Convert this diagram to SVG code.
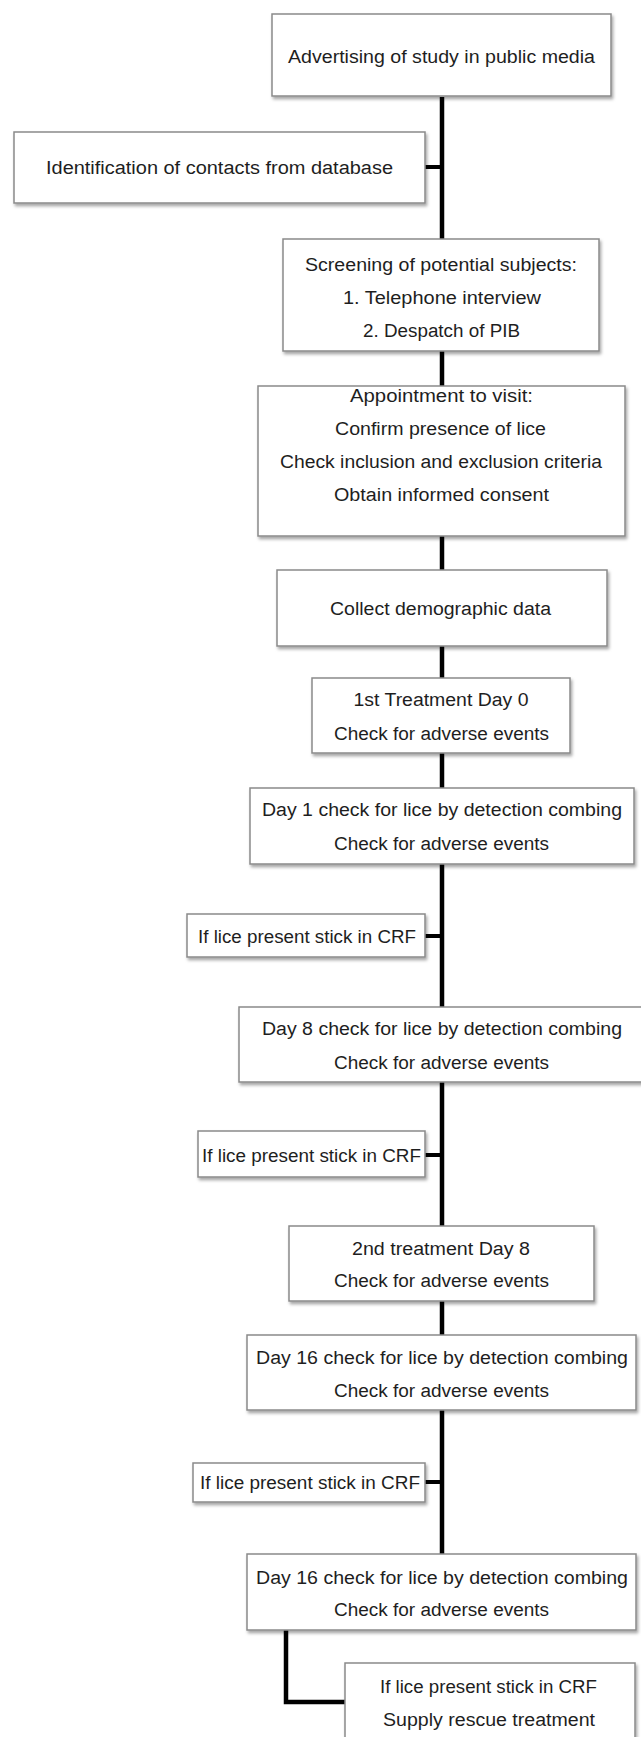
<svg xmlns="http://www.w3.org/2000/svg" width="641" height="1737" viewBox="0 0 641 1737">
<defs>
<filter id="sh" x="-5%" y="-10%" width="115%" height="130%">
<feDropShadow dx="1.5" dy="2.5" stdDeviation="1.5" flood-color="#000" flood-opacity="0.35"/>
</filter>
<style>
.box{fill:#fff;stroke:#8a8a8a;stroke-width:1.5;filter:url(#sh)}
.t{font-family:"Liberation Sans",Arial,sans-serif;font-size:18px;fill:#1e1e1e;text-anchor:middle}
.c{stroke:#000;stroke-width:4.5;fill:none}
.s{stroke:#000;stroke-width:4;fill:none}
</style>
</defs>
<rect width="641" height="1737" fill="#fff"/>
<g id="connectors">
<line class="c" x1="442" y1="97" x2="442" y2="239"/>
<line class="s" x1="425" y1="167" x2="442" y2="167"/>
<line class="c" x1="442" y1="351" x2="442" y2="386"/>
<line class="c" x1="442" y1="536" x2="442" y2="570"/>
<line class="c" x1="442" y1="646" x2="442" y2="678"/>
<line class="c" x1="442" y1="753" x2="442" y2="788"/>
<line class="c" x1="442" y1="864" x2="442" y2="1007"/>
<line class="s" x1="425" y1="936" x2="442" y2="936"/>
<line class="c" x1="442" y1="1082" x2="442" y2="1226"/>
<line class="s" x1="425" y1="1155" x2="442" y2="1155"/>
<line class="c" x1="442" y1="1301" x2="442" y2="1335"/>
<line class="c" x1="442" y1="1410" x2="442" y2="1554"/>
<line class="s" x1="425" y1="1482" x2="442" y2="1482"/>
<polyline class="c" points="286,1630 286,1702 345,1702"/>
</g>
<g id="n1"><rect class="box" x="272" y="14" width="339" height="82"/>
<text class="t" x="441.5" y="63" textLength="307" lengthAdjust="spacingAndGlyphs">Advertising of study in public media</text></g>
<g id="n2"><rect class="box" x="14" y="132" width="411" height="71"/>
<text class="t" x="219.5" y="174" textLength="347" lengthAdjust="spacingAndGlyphs">Identification of contacts from database</text></g>
<g id="n3"><rect class="box" x="283" y="239" width="316" height="112"/>
<text class="t" x="441" y="271" textLength="272" lengthAdjust="spacingAndGlyphs">Screening of potential subjects:</text>
<text class="t" x="442" y="304" textLength="198" lengthAdjust="spacingAndGlyphs">1. Telephone interview</text>
<text class="t" x="441.5" y="337" textLength="157" lengthAdjust="spacingAndGlyphs">2. Despatch of PIB</text></g>
<g id="n4"><rect class="box" x="258" y="386" width="367" height="150"/>
<text class="t" x="441.5" y="402" textLength="183" lengthAdjust="spacingAndGlyphs">Appointment to visit:</text>
<text class="t" x="440.5" y="435" textLength="211" lengthAdjust="spacingAndGlyphs">Confirm presence of lice</text>
<text class="t" x="441" y="468" textLength="322" lengthAdjust="spacingAndGlyphs">Check inclusion and exclusion criteria</text>
<text class="t" x="441.5" y="501" textLength="215" lengthAdjust="spacingAndGlyphs">Obtain informed consent</text></g>
<g id="n5"><rect class="box" x="277" y="570" width="330" height="76"/>
<text class="t" x="440.5" y="615" textLength="221" lengthAdjust="spacingAndGlyphs">Collect demographic data</text></g>
<g id="n6"><rect class="box" x="312" y="678" width="258" height="75"/>
<text class="t" x="441" y="706" textLength="175" lengthAdjust="spacingAndGlyphs">1st Treatment Day 0</text>
<text class="t" x="441.5" y="740" textLength="215" lengthAdjust="spacingAndGlyphs">Check for adverse events</text></g>
<g id="n7"><rect class="box" x="250" y="788" width="384" height="76"/>
<text class="t" x="442" y="816" textLength="360" lengthAdjust="spacingAndGlyphs">Day 1 check for lice by detection combing</text>
<text class="t" x="441.5" y="850" textLength="215" lengthAdjust="spacingAndGlyphs">Check for adverse events</text></g>
<g id="n8"><rect class="box" x="187" y="914" width="238" height="43"/>
<text class="t" x="307" y="943" textLength="218" lengthAdjust="spacingAndGlyphs">If lice present stick in CRF</text></g>
<g id="n9"><rect class="box" x="239" y="1007" width="404" height="75"/>
<text class="t" x="442" y="1035" textLength="360" lengthAdjust="spacingAndGlyphs">Day 8 check for lice by detection combing</text>
<text class="t" x="441.5" y="1069" textLength="215" lengthAdjust="spacingAndGlyphs">Check for adverse events</text></g>
<g id="n10"><rect class="box" x="198" y="1131" width="227" height="46"/>
<text class="t" x="311.5" y="1162" textLength="219" lengthAdjust="spacingAndGlyphs">If lice present stick in CRF</text></g>
<g id="n11"><rect class="box" x="289" y="1226" width="305" height="75"/>
<text class="t" x="441" y="1255" textLength="178" lengthAdjust="spacingAndGlyphs">2nd treatment Day 8</text>
<text class="t" x="441.5" y="1287" textLength="215" lengthAdjust="spacingAndGlyphs">Check for adverse events</text></g>
<g id="n12"><rect class="box" x="247" y="1335" width="389" height="75"/>
<text class="t" x="442" y="1364" textLength="372" lengthAdjust="spacingAndGlyphs">Day 16 check for lice by detection combing</text>
<text class="t" x="441.5" y="1397" textLength="215" lengthAdjust="spacingAndGlyphs">Check for adverse events</text></g>
<g id="n13"><rect class="box" x="193" y="1463" width="232" height="39"/>
<text class="t" x="310" y="1489" textLength="220" lengthAdjust="spacingAndGlyphs">If lice present stick in CRF</text></g>
<g id="n14"><rect class="box" x="247" y="1554" width="389" height="76"/>
<text class="t" x="442" y="1584" textLength="372" lengthAdjust="spacingAndGlyphs">Day 16 check for lice by detection combing</text>
<text class="t" x="441.5" y="1616" textLength="215" lengthAdjust="spacingAndGlyphs">Check for adverse events</text></g>
<g id="n15"><rect class="box" x="345" y="1663" width="290" height="84"/>
<text class="t" x="488.5" y="1693" textLength="217" lengthAdjust="spacingAndGlyphs">If lice present stick in CRF</text>
<text class="t" x="489" y="1726" textLength="212" lengthAdjust="spacingAndGlyphs">Supply rescue treatment</text></g>
</svg>
